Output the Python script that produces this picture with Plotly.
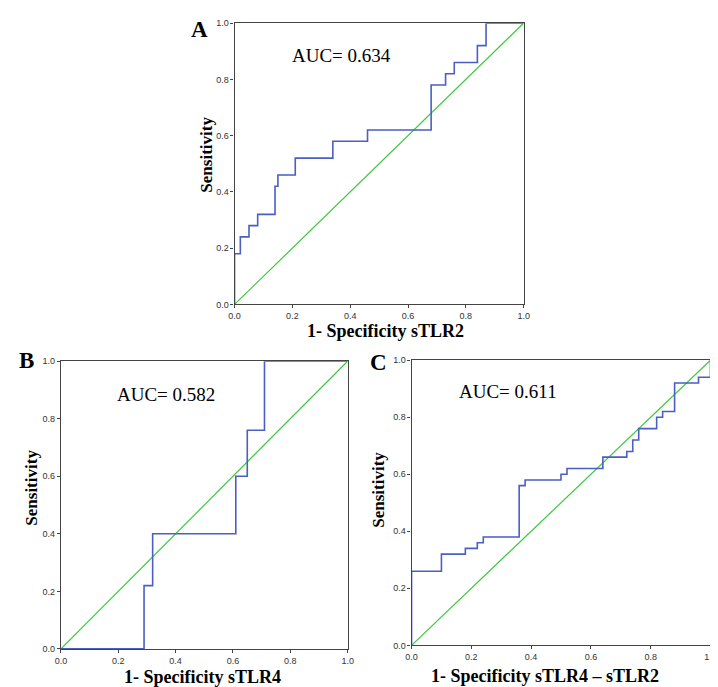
import plotly.graph_objects as go

# ---- data ----
a_fpr = [0.0, 0.0, 0.02, 0.02, 0.05, 0.05, 0.08, 0.08, 0.14, 0.14, 0.15, 0.15, 0.21, 0.21,
         0.34, 0.34, 0.46, 0.46, 0.68, 0.68, 0.73, 0.73, 0.76, 0.76, 0.84, 0.84, 0.87, 0.87, 1.0]
a_tpr = [0.0, 0.18, 0.18, 0.24, 0.24, 0.28, 0.28, 0.32, 0.32, 0.42, 0.42, 0.46, 0.46, 0.52,
         0.52, 0.58, 0.58, 0.62, 0.62, 0.78, 0.78, 0.82, 0.82, 0.86, 0.86, 0.92, 0.92, 1.0, 1.0]

b_fpr = [0.0, 0.29, 0.29, 0.32, 0.32, 0.61, 0.61, 0.65, 0.65, 0.71, 0.71, 1.0]
b_tpr = [0.0, 0.0, 0.22, 0.22, 0.40, 0.40, 0.60, 0.60, 0.76, 0.76, 1.0, 1.0]

c_fpr = [0.0, 0.0, 0.10, 0.10, 0.18, 0.18, 0.22, 0.22, 0.24, 0.24, 0.36, 0.36, 0.38, 0.38,
         0.50, 0.50, 0.52, 0.52, 0.64, 0.64, 0.72, 0.72, 0.74, 0.74, 0.76, 0.76, 0.82, 0.82,
         0.84, 0.84, 0.88, 0.88, 0.96, 0.96, 1.0, 1.0]
c_tpr = [0.0, 0.26, 0.26, 0.32, 0.32, 0.34, 0.34, 0.36, 0.36, 0.38, 0.38, 0.56, 0.56, 0.58,
         0.58, 0.60, 0.60, 0.62, 0.62, 0.66, 0.66, 0.68, 0.68, 0.72, 0.72, 0.76, 0.76, 0.80,
         0.80, 0.82, 0.82, 0.92, 0.92, 0.94, 0.94, 1.0]

ref_line = [0.0, 1.0]
tick_vals = [0.0, 0.2, 0.4, 0.6, 0.8, 1.0]
tick_text = ["0.0", "0.2", "0.4", "0.6", "0.8", "1.0"]

panels = [
    dict(letter="A", auc="AUC= 0.634", xtitle="1- Specificity sTLR2", fpr=a_fpr, tpr=a_tpr),
    dict(letter="B", auc="AUC= 0.582", xtitle="1- Specificity sTLR4", fpr=b_fpr, tpr=b_tpr),
    dict(letter="C", auc="AUC= 0.611", xtitle="1- Specificity sTLR4 \u2013 sTLR2", fpr=c_fpr, tpr=c_tpr),
]

# ---- layout (pixel geometry) ----
W, H = 718, 687
boxes = [(224.3, 518.3, 10.3, 295.7), (47.7, 339.3, 353.3, 645.3), (404.3, 708.3, 352.3, 641.7)]
letter_pos = [(189, 17), (13, 353), (371, 355)]
auc_pos = [(333, 43), (155, 387), (502, 384)]
ytitle_pos = [(196, 144), (18, 482), (371, 484)]
xtitle_pos = [(378, 323), (192, 674), (540, 673)]

px = lambda x: x / W
py = lambda y: 1 - y / H

BLUE = "#4a5ec4"
GREEN = "#3cc83c"
AX = "#444444"
SERIF = "Liberation Serif, Times New Roman"

fig = go.Figure()
layout = dict(width=W, height=H, margin=dict(l=0, r=0, t=0, b=0),
              paper_bgcolor="white", plot_bgcolor="white", showlegend=False)
annotations = []

for i, p in enumerate(panels):
    s = "" if i == 0 else str(i + 1)
    xa, ya = "x" + s, "y" + s
    fig.add_trace(go.Scatter(x=ref_line, y=ref_line, mode="lines", xaxis=xa, yaxis=ya,
                             line=dict(color=GREEN, width=1.2), hoverinfo="skip"))
    fig.add_trace(go.Scatter(x=p["fpr"], y=p["tpr"], mode="lines", xaxis=xa, yaxis=ya,
                             line=dict(color=BLUE, width=1.6), hoverinfo="skip"))
    x0, x1, y0, y1 = boxes[i]
    common = dict(range=[0, 1], showgrid=False, zeroline=False, showline=True, linecolor=AX,
                  linewidth=1.2, mirror=True, ticks="outside", ticklen=3, tickcolor=AX,
                  tickvals=tick_vals, ticktext=tick_text,
                  tickfont=dict(family="Arial, Liberation Sans", size=9, color="#333"))
    layout["xaxis" + s] = dict(domain=[px(x0), px(x1)], anchor=ya, **common)
    layout["yaxis" + s] = dict(domain=[py(y1), py(y0)], anchor=xa, **common)

    lx, ly = letter_pos[i]
    annotations.append(dict(text="<b>%s</b>" % p["letter"], x=px(lx), y=py(ly), xref="paper", yref="paper",
                            showarrow=False, xanchor="center", yanchor="middle",
                            font=dict(family=SERIF, size=23, color="black")))
    ax_, ay_ = auc_pos[i]
    annotations.append(dict(text=p["auc"], x=px(ax_), y=py(ay_), xref="paper", yref="paper",
                            showarrow=False, xanchor="center", yanchor="middle",
                            font=dict(family=SERIF, size=19, color="black")))
    tx, ty = ytitle_pos[i]
    annotations.append(dict(text="<b>Sensitivity</b>", x=px(tx), y=py(ty), xref="paper", yref="paper",
                            showarrow=False, xanchor="center", yanchor="middle", textangle=-90,
                            font=dict(family=SERIF, size=17, color="black")))
    xx, xy = xtitle_pos[i]
    annotations.append(dict(text="<b>%s</b>" % p["xtitle"], x=px(xx), y=py(xy), xref="paper", yref="paper",
                            showarrow=False, xanchor="center", yanchor="middle",
                            font=dict(family=SERIF, size=18, color="black")))

layout["annotations"] = annotations
fig.update_layout(**layout)
fig.write_html("out.html")
